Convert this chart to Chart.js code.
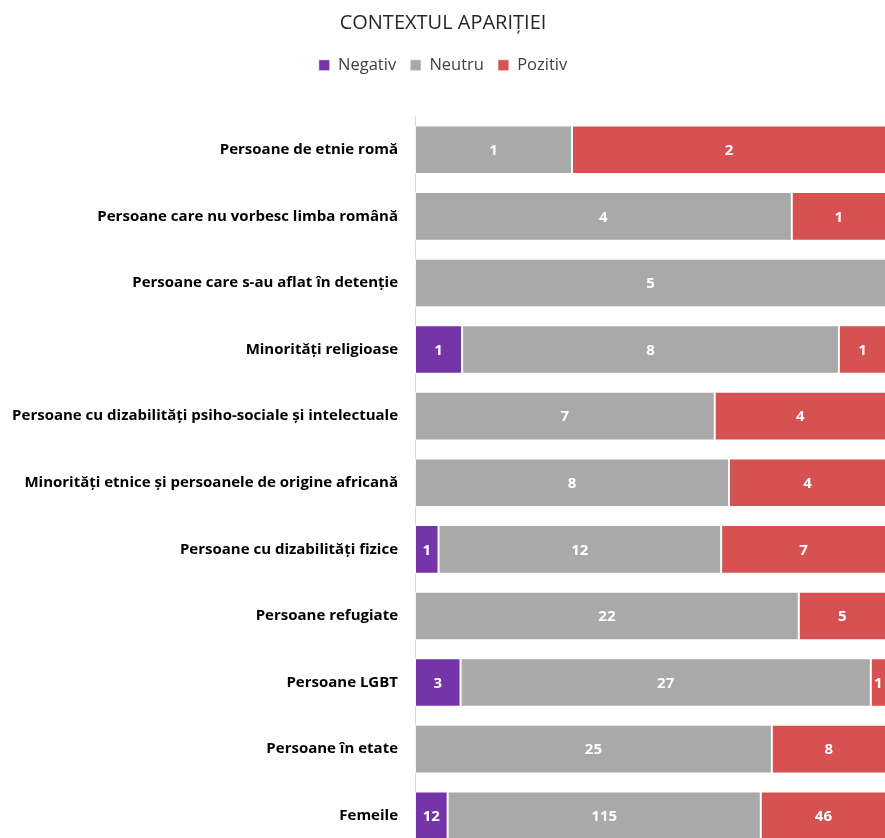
<!DOCTYPE html>
<html>
<head>
<meta charset="utf-8">
<script src="https://cdn.jsdelivr.net/npm/chart.js@4"></script>
<style>
html,body{margin:0;padding:0;background:#fff;overflow:hidden;}
#wrap{position:absolute;left:0;top:0;width:886px;height:849px;}
</style>
</head>
<body>
<div id="wrap"><canvas id="c"></canvas></div>
<script>
const categories = [
  "Persoane de etnie romă",
  "Persoane care nu vorbesc limba română",
  "Persoane care s-au aflat în detenție",
  "Minorități religioase",
  "Persoane cu dizabilități psiho-sociale și intelectuale",
  "Minorități etnice și persoanele de origine africană",
  "Persoane cu dizabilități fizice",
  "Persoane refugiate",
  "Persoane LGBT",
  "Persoane în etate",
  "Femeile"
];
const negativ = [0, 0, 0, 1, 0, 0, 1, 0, 3, 0, 12];
const neutru  = [1, 4, 5, 8, 7, 8, 12, 22, 27, 25, 115];
const pozitiv = [2, 1, 0, 1, 4, 4, 7, 5, 1, 8, 46];

const totals = categories.map((_, i) => negativ[i] + neutru[i] + pozitiv[i]);
const pct = arr => arr.map((v, i) => v / totals[i] * 100);

const seriesDefs = [
  {label: "Negativ", raw: negativ, color: "#7535A8"},
  {label: "Neutru",  raw: neutru,  color: "#A9A9A9"},
  {label: "Pozitiv", raw: pozitiv, color: "#D65252"}
];

const labelPlugin = {
  id: "segLabels",
  afterDatasetsDraw(chart) {
    const ctx = chart.ctx;
    ctx.save();
    ctx.font = "bold 15px 'Open Sans', sans-serif";
    ctx.fillStyle = "#fff";
    ctx.textAlign = "center";
    ctx.textBaseline = "middle";
    chart.data.datasets.forEach((ds, di) => {
      const meta = chart.getDatasetMeta(di);
      meta.data.forEach((el, i) => {
        const v = ds.raw[i];
        if (!v) return;
        const p = el.getProps(["x", "y", "base"], true);
        ctx.fillText(String(v), (p.x + p.base) / 2, p.y + 1);
      });
    });
    ctx.restore();
  }
};

const legendSpace = {
  id: "legendSpace",
  beforeInit(chart) {
    const lg = chart.legend;
    const origFit = lg.fit;
    lg.fit = function () {
      origFit.call(this);
      this.height += 33;
    };
  }
};

new Chart(document.getElementById("c"), {
  type: "bar",
  data: {
    labels: categories,
    datasets: seriesDefs.map(s => ({
      label: s.label,
      raw: s.raw,
      data: pct(s.raw),
      backgroundColor: s.color,
      borderColor: "rgba(255,255,255,0.7)",
      borderWidth: 1,
      borderSkipped: false,
      categoryPercentage: 1,
      barPercentage: 0.73
    }))
  },
  options: {
    indexAxis: "y",
    responsive: true,
    maintainAspectRatio: false,
    animation: false,
    layout: {padding: {left: 0, right: 0, top: 0, bottom: 0}},
    plugins: {
      title: {
        display: true,
        text: "CONTEXTUL APARIȚIEI",
        color: "#262626",
        font: {family: "'Open Sans', sans-serif", size: 20, weight: "normal"},
        padding: {top: 11, bottom: 8}
      },
      legend: {
        display: true,
        position: "top",
        labels: {
          color: "#404040",
          font: {family: "'Open Sans', sans-serif", size: 16.5},
          boxWidth: 11,
          boxHeight: 11,
          padding: 14
        }
      },
      tooltip: {enabled: false}
    },
    scales: {
      x: {
        stacked: true,
        display: false,
        min: 0,
        max: 100
      },
      y: {
        stacked: true,
        grid: {display: false, drawTicks: false},
        border: {display: true, color: "#d9d9d9", width: 1},
        ticks: {
          color: "#000",
          padding: 17,
          font: {family: "'Open Sans', sans-serif", size: 15, weight: "bold"}
        },
        afterFit(scale) {
          scale.width = 415;
          scale.paddingTop = 0;
          scale.paddingBottom = 0;
        }
      }
    }
  },
  plugins: [labelPlugin, legendSpace]
});
</script>
</body>
</html>
